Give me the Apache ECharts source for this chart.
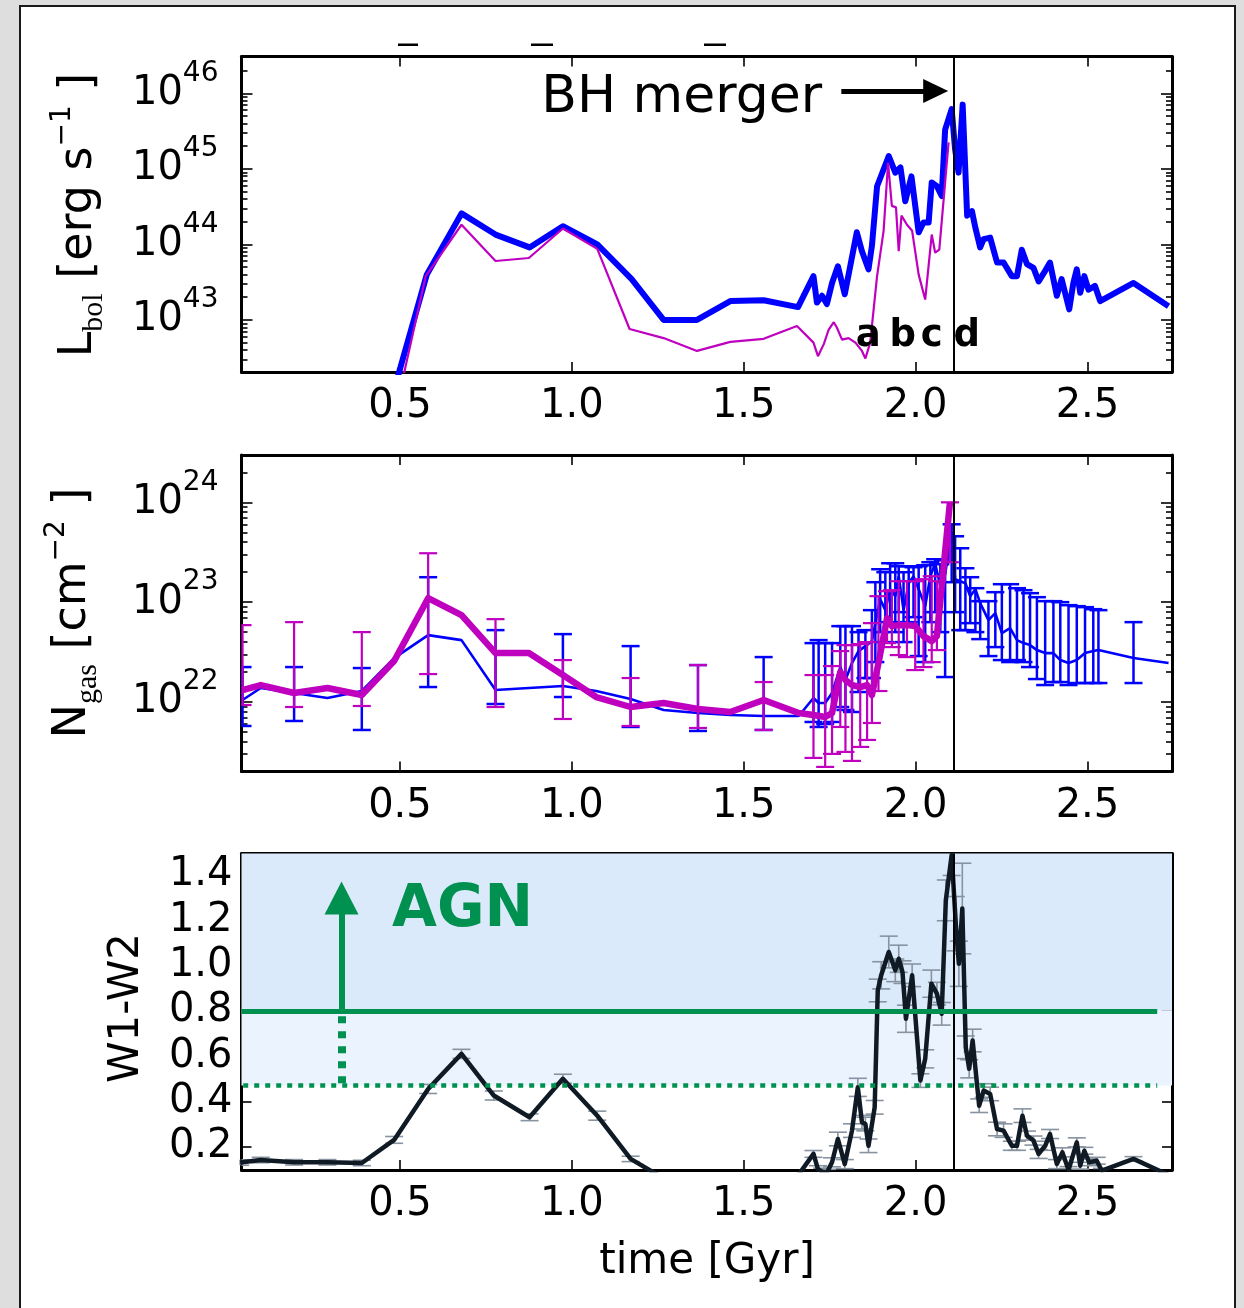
<!DOCTYPE html>
<html><head><meta charset="utf-8">
<script src="https://cdn.jsdelivr.net/npm/echarts@6/dist/echarts.min.js"></script>
<style>
html,body{margin:0;padding:0;width:1244px;height:1308px;background:#dedede;overflow:hidden}
#card{position:absolute;left:19px;top:5px;width:1213px;height:1320px;background:#fff;border:2px solid #1a1a1a}
#chart{position:absolute;left:0;top:0;width:1244px;height:1308px}
</style></head><body><div id="card"></div><div id="chart"></div>
<script>
// ---------------- DATA ----------------
// time axis ticks
const timeTicks = [0.5, 1.0, 1.5, 2.0, 2.5];
const mergerTime = 2.108;

// Panel 1: log10 L_bol [erg/s]
const lbolBlueT = [0.470,0.578,0.679,0.778,0.877,0.974,1.074,1.174,1.267,1.364,1.461,1.558,1.658,1.703,1.713,1.728,1.742,1.757,1.774,1.794,1.829,1.844,1.863,1.873,1.888,1.922,1.941,1.956,1.970,1.988,2.009,2.023,2.038,2.047,2.062,2.076,2.086,2.105,2.115,2.125,2.137,2.145,2.150,2.164,2.174,2.188,2.198,2.217,2.237,2.256,2.280,2.295,2.309,2.324,2.343,2.358,2.377,2.391,2.411,2.425,2.447,2.459,2.469,2.479,2.491,2.503,2.522,2.537,2.634,2.736];
const lbolBlueLog = [41.87,43.60,44.41,44.13,43.96,44.24,44.00,43.54,43.00,43.00,43.25,43.26,43.17,43.58,43.23,43.32,43.21,43.49,43.71,43.34,44.16,43.91,43.67,43.98,44.77,45.17,44.95,45.02,44.57,44.90,44.16,44.29,44.29,44.82,44.77,44.64,45.52,45.79,45.26,44.95,45.85,44.95,44.38,44.44,44.22,43.96,44.07,44.09,43.76,43.76,43.58,43.58,43.93,43.74,43.69,43.51,43.65,43.76,43.32,43.54,43.14,43.49,43.67,43.36,43.58,43.40,43.45,43.25,43.49,43.18];
const lbolMagT = [0.490,0.575,0.679,0.778,0.875,0.974,1.074,1.168,1.267,1.364,1.461,1.558,1.655,1.703,1.716,1.733,1.747,1.762,1.771,1.786,1.805,1.825,1.844,1.854,1.868,1.888,1.907,1.920,1.931,1.943,1.951,1.959,1.975,1.990,2.009,2.028,2.047,2.057,2.069,2.096];
const lbolMagLog = [41.85,43.58,44.26,43.78,43.82,44.21,43.94,42.88,42.76,42.59,42.71,42.75,42.92,42.70,42.52,42.68,42.87,42.97,42.90,42.74,42.76,42.70,42.59,42.49,42.70,43.58,44.18,45.08,44.51,44.49,43.91,44.38,44.26,44.18,43.60,43.27,44.13,43.89,43.93,45.35];
const lbolMajorExp = [43, 44, 45, 46];

// Panel 2: log10 N_gas [cm^-2]
const ngasBlueT = [0.042,0.095,0.192,0.289,0.389,0.483,0.582,0.679,0.778,0.875,0.974,1.071,1.171,1.267,1.367,1.461,1.558,1.660,1.703,1.718,1.737,1.757,1.781,1.796,1.815,1.834,1.854,1.873,1.883,1.897,1.912,1.926,1.941,1.951,1.965,1.980,1.994,2.009,2.028,2.043,2.057,2.072,2.086,2.105,2.115,2.130,2.145,2.159,2.174,2.188,2.212,2.232,2.251,2.275,2.295,2.314,2.333,2.353,2.377,2.401,2.421,2.445,2.469,2.493,2.517,2.532,2.634,2.736];
const ngasBlueLog = [22.02,22.14,22.09,22.04,22.11,22.44,22.67,22.62,22.12,22.14,22.16,22.11,22.03,21.92,21.89,21.87,21.86,21.86,22.04,21.99,21.99,22.09,22.35,22.22,22.39,22.51,22.56,22.61,22.79,23.03,22.92,23.13,23.06,23.26,22.92,23.19,23.26,23.13,22.96,23.26,23.39,23.16,23.28,23.70,23.23,23.21,23.19,23.06,23.13,22.99,22.82,22.89,22.69,22.74,22.62,22.59,22.57,22.52,22.49,22.49,22.42,22.39,22.42,22.49,22.51,22.52,22.44,22.39];
const ngasBlueErrT = [0.042,0.192,0.389,0.582,0.778,0.974,1.171,1.367,1.558,1.703,1.718,1.737,1.757,1.781,1.796,1.815,1.834,1.854,1.873,1.883,1.897,1.912,1.926,1.941,1.951,1.965,1.980,1.994,2.009,2.028,2.043,2.057,2.072,2.086,2.105,2.115,2.130,2.145,2.159,2.174,2.188,2.212,2.232,2.251,2.275,2.295,2.314,2.333,2.353,2.377,2.401,2.421,2.445,2.469,2.493,2.517,2.532,2.634];
const ngasBlueErrLo = [21.76,21.81,21.72,22.15,21.98,22.05,21.75,21.71,21.72,21.80,21.75,21.78,21.80,21.95,21.92,21.90,22.10,22.24,22.24,22.40,22.70,22.60,22.80,22.70,22.90,22.60,22.80,22.85,22.46,22.40,22.80,22.90,22.70,22.25,23.20,22.90,22.72,22.72,22.79,22.70,22.63,22.46,22.55,22.42,22.40,22.42,22.40,22.35,22.23,22.17,22.20,22.20,22.17,22.19,22.19,22.19,22.19,22.19];
const ngasBlueErrHi = [22.35,22.35,22.34,23.25,22.72,22.68,22.56,22.37,22.45,22.59,22.62,22.59,22.59,22.76,22.76,22.76,22.70,22.72,22.92,23.20,23.33,23.30,23.39,23.39,23.36,23.30,23.36,23.35,23.36,23.37,23.40,23.43,23.38,23.42,23.78,23.66,23.54,23.34,23.25,23.14,23.01,23.01,23.10,23.18,23.18,23.14,23.12,23.09,23.05,23.01,23.01,23.00,22.97,22.96,22.95,22.93,22.92,22.80];
const ngasMagT = [0.042,0.095,0.192,0.289,0.389,0.483,0.582,0.679,0.778,0.875,0.974,1.071,1.171,1.267,1.367,1.461,1.558,1.660,1.703,1.737,1.757,1.781,1.796,1.815,1.839,1.859,1.873,1.892,1.917,1.931,1.951,1.975,1.999,2.023,2.047,2.062,2.100];
const ngasMagLog = [22.12,22.17,22.09,22.14,22.07,22.41,23.04,22.87,22.49,22.49,22.27,22.05,21.95,21.99,21.93,21.90,22.02,21.89,21.87,21.85,21.89,22.30,22.22,22.17,22.15,22.17,22.07,22.39,22.84,22.76,22.77,22.77,22.76,22.66,22.61,22.66,24.00];
const ngasMagErrT = [0.042,0.192,0.389,0.582,0.778,0.974,1.171,1.367,1.558,1.703,1.737,1.757,1.781,1.796,1.815,1.839,1.859,1.873,1.892,1.917,1.931,1.951,1.975,1.999,2.023,2.047,2.062,2.100];
const ngasMagErrLo = [21.97,21.95,21.96,22.28,21.95,21.83,21.76,21.74,21.72,21.44,21.35,21.48,21.75,21.50,21.41,21.55,21.62,21.79,22.11,22.59,22.55,22.47,22.45,22.32,22.35,22.40,22.52,23.40];
const ngasMagErrHi = [22.77,22.80,22.70,23.49,22.83,22.42,22.24,22.37,22.20,22.27,22.27,22.36,22.51,22.57,22.57,22.58,22.60,22.79,23.06,23.11,23.12,23.21,23.21,23.21,23.23,23.26,23.21,24.00];
const ngasMajorExp = [22, 23, 24];

// Panel 3: W1-W2 colour
const wT = [0.035,0.095,0.192,0.289,0.389,0.483,0.582,0.679,0.773,0.877,0.974,1.074,1.171,1.267,1.364,1.461,1.558,1.658,1.703,1.716,1.728,1.742,1.757,1.774,1.794,1.815,1.832,1.844,1.854,1.863,1.881,1.890,1.900,1.922,1.941,1.951,1.962,1.972,1.990,2.014,2.028,2.046,2.062,2.076,2.088,2.105,2.117,2.126,2.136,2.146,2.156,2.166,2.185,2.198,2.217,2.237,2.256,2.280,2.295,2.311,2.324,2.343,2.358,2.377,2.391,2.411,2.427,2.445,2.469,2.479,2.491,2.505,2.527,2.542,2.634,2.736];
const wColor = [0.130,0.141,0.131,0.131,0.128,0.230,0.455,0.610,0.426,0.330,0.500,0.337,0.146,0.060,0.050,0.055,0.060,0.073,0.168,0.101,0.090,0.085,0.131,0.234,0.123,0.271,0.462,0.308,0.300,0.204,0.374,0.890,0.957,1.060,0.979,1.030,0.971,0.765,0.957,0.492,0.588,0.920,0.876,0.787,1.288,1.488,1.185,1.008,1.252,0.639,0.544,0.669,0.381,0.448,0.433,0.278,0.271,0.204,0.204,0.337,0.249,0.227,0.168,0.204,0.256,0.123,0.175,0.097,0.219,0.116,0.182,0.131,0.138,0.094,0.146,0.075];
const wErr = [0.012,0.012,0.012,0.012,0.012,0.015,0.02,0.02,0.02,0.015,0.02,0.02,0.012,0.01,0.01,0.01,0.01,0.01,0.015,0.015,0.015,0.015,0.02,0.03,0.02,0.03,0.04,0.03,0.03,0.03,0.03,0.05,0.06,0.07,0.05,0.06,0.05,0.06,0.05,0.03,0.04,0.06,0.05,0.05,0.09,0.09,0.12,0.10,0.20,0.05,0.04,0.05,0.03,0.03,0.03,0.03,0.03,0.02,0.02,0.03,0.02,0.02,0.02,0.02,0.02,0.02,0.02,0.015,0.02,0.015,0.015,0.015,0.015,0.01,0.01,0.01];
const wTicks = [0.2, 0.4, 0.6, 0.8, 1.0, 1.2, 1.4];
const agnCut = 0.8;
const agnCutLow = 0.47;
const agnArrowT = 0.330;
const agnArrowTop = 1.298;
const lineEndT = 2.703;

// ---------------- STYLE / LAYOUT ----------------
const F = 'DejaVu Sans';
const xMin = 0.039, xMax = 2.746;
const lbolRange = [42.311, 46.487];
const ngasRange = [21.304, 24.474];
const wRange = [0.097, 1.495];
const BLUE = '#0000ff', MAG = '#bf00bf', GREEN = '#009150', BLK = '#0f1a24', GRAY = '#8793a0';

const grids = [
  {left: 241.5, top: 56.5, width: 930.5, height: 315.5},
  {left: 241.5, top: 455, width: 930.5, height: 316.5},
  {left: 241.5, top: 853.5, width: 930.5, height: 316.5}
];
const P = v => Math.pow(10, v);
const lineAx = {show: true, onZero: false, lineStyle: {color: '#000', width: 3}};
const tickStyle = {color: '#000', width: 1.6};

function mkX(gi) {
  const base = {type: 'value', gridIndex: gi, min: xMin, max: xMax, splitLine: {show: false}, axisLine: lineAx};
  return [
    Object.assign({}, base, {position: 'bottom',
      axisTick: {show: true, inside: true, length: 10, lineStyle: tickStyle, customValues: timeTicks},
      axisLabel: {show: true, customValues: timeTicks, formatter: v => v.toFixed(1), fontFamily: F, fontSize: 40, color: '#000', margin: 15}}),
    Object.assign({}, base, {position: 'top',
      axisTick: {show: true, inside: true, length: 10, lineStyle: tickStyle, customValues: timeTicks},
      axisLabel: {show: false}})
  ];
}
function minorsFor(r) {
  const out = [];
  for (let n = Math.floor(r[0]); n <= Math.ceil(r[1]); n++) {
    for (let k = 2; k <= 9; k++) {
      const l = Math.log10(k) + n;
      if (l > r[0] && l < r[1]) out.push(k * Math.pow(10, n));
    }
  }
  return out;
}
const supRich = {
  b: {fontSize: 40, fontFamily: F, color: '#000', lineHeight: 68, verticalAlign: 'middle'},
  s: {fontSize: 28, fontFamily: F, color: '#000', lineHeight: 28, verticalAlign: 'top'}
};
function mkYLog(gi, r, majorsExp) {
  const majors = majorsExp.map(P);
  const minors = minorsFor(r);
  const base = {type: 'log', logBase: 10, gridIndex: gi, min: P(r[0]), max: P(r[1]), splitLine: {show: false}};
  return [
    Object.assign({}, base, {position: 'left', axisLine: lineAx,
      axisTick: {show: true, inside: true, length: 11, lineStyle: tickStyle, customValues: majors},
      axisLabel: {show: true, customValues: majors, margin: 23, fontSize: 40, fontFamily: F, color: '#000',
        formatter: v => '{b|10}{s|' + Math.round(Math.log10(v)) + '}', rich: supRich}}),
    Object.assign({}, base, {position: 'left', axisLine: {show: false},
      axisTick: {show: true, inside: true, length: 6, lineStyle: tickStyle, customValues: minors}, axisLabel: {show: false}}),
    Object.assign({}, base, {position: 'right', axisLine: lineAx,
      axisTick: {show: true, inside: true, length: 11, lineStyle: tickStyle, customValues: majors}, axisLabel: {show: false}}),
    Object.assign({}, base, {position: 'right', axisLine: {show: false},
      axisTick: {show: true, inside: true, length: 6, lineStyle: tickStyle, customValues: minors}, axisLabel: {show: false}})
  ];
}
function mkYLin(gi) {
  const base = {type: 'value', gridIndex: gi, min: wRange[0], max: wRange[1], splitLine: {show: false}, axisLine: lineAx};
  return [
    Object.assign({}, base, {position: 'left',
      axisTick: {show: true, inside: true, length: 10, lineStyle: tickStyle, customValues: wTicks},
      axisLabel: {show: true, customValues: wTicks, formatter: v => v.toFixed(1), margin: 9, fontFamily: F, fontSize: 40, color: '#000'}}),
    Object.assign({}, base, {position: 'right',
      axisTick: {show: true, inside: true, length: 10, lineStyle: tickStyle, customValues: wTicks}, axisLabel: {show: false}})
  ];
}

function errSeries(xi, yi, ts, los, his, color, lw, cap, z) {
  const data = ts.map((t, i) => [t, los[i], his[i]]);
  return {
    type: 'custom', xAxisIndex: xi, yAxisIndex: yi, z: z, silent: true,
    encode: {x: 0, y: [1, 2]}, data: data,
    renderItem: function (params, api) {
      const cs = params.coordSys;
      const a = api.coord([api.value(0), api.value(1)]);
      const b = api.coord([api.value(0), api.value(2)]);
      const top = cs.y, bot = cs.y + cs.height;
      const x = a[0];
      const y1 = Math.min(Math.max(b[1], top), bot), y2 = Math.min(Math.max(a[1], top), bot);
      const st = {stroke: color, lineWidth: lw};
      const ch = [{type: 'line', shape: {x1: x, y1: y1, x2: x, y2: y2}, style: st}];
      [a[1], b[1]].forEach(yy => {
        if (yy >= top - 0.5 && yy <= bot + 0.5) {
          ch.push({type: 'line', shape: {x1: Math.max(x - cap, cs.x), y1: yy, x2: x + cap, y2: yy}, style: st});
        }
      });
      return {type: 'group', children: ch};
    }
  };
}

const zip = (ts, vs, f) => ts.map((t, i) => [t, f ? f(vs[i]) : vs[i]]);
const vLine = {xAxis: mergerTime, lineStyle: {color: '#000', width: 2, type: 'solid'}};

const series = [
  // panel 1
  {type: 'line', xAxisIndex: 0, yAxisIndex: 0, data: zip(lbolBlueT, lbolBlueLog, P), symbol: 'none', z: 3,
    lineStyle: {color: BLUE, width: 6, join: 'round'},
    markLine: {silent: true, symbol: 'none', label: {show: false}, animation: false,
      data: [vLine,
        [{coord: [1.784, P(46.03)], symbol: 'none', lineStyle: {color: '#000', width: 5, type: 'solid'}},
         {coord: [2.0585, P(46.03)], symbol: 'triangle', symbolSize: [24, 25]}]
      ]}},
  {type: 'line', xAxisIndex: 0, yAxisIndex: 0, data: zip(lbolMagT, lbolMagLog, P), symbol: 'none', z: 4,
    lineStyle: {color: MAG, width: 2.2}},
  // panel 2
  errSeries(2, 4, ngasBlueErrT, ngasBlueErrLo.map(P), ngasBlueErrHi.map(P), BLUE, 2.5, 9, 2),
  {type: 'line', xAxisIndex: 2, yAxisIndex: 4, data: zip(ngasBlueT, ngasBlueLog, P), symbol: 'none', z: 3,
    lineStyle: {color: BLUE, width: 2.6},
    markLine: {silent: true, symbol: 'none', label: {show: false}, animation: false, data: [vLine]}},
  errSeries(2, 4, ngasMagErrT, ngasMagErrLo.map(P), ngasMagErrHi.map(P), MAG, 2.2, 9, 4),
  {type: 'line', xAxisIndex: 2, yAxisIndex: 4, data: zip(ngasMagT, ngasMagLog, P), symbol: 'none', z: 5,
    lineStyle: {color: MAG, width: 6.5, join: 'round'}},
  // panel 3 shading
  {type: 'line', xAxisIndex: 4, yAxisIndex: 8, data: [[xMin, 0]], symbol: 'none', z: 1, lineStyle: {opacity: 0},
    markArea: {silent: true, animation: false, data: [
      [{yAxis: agnCut, itemStyle: {color: '#dbeafa'}}, {yAxis: wRange[1]}],
      [{yAxis: agnCutLow, itemStyle: {color: '#eaf3fe'}}, {yAxis: agnCut}]
    ]}},
  {type: 'line', xAxisIndex: 4, yAxisIndex: 8, data: [[xMin, 0]], symbol: 'none', z: 2, lineStyle: {opacity: 0},
    markLine: {silent: true, symbol: 'none', label: {show: false}, animation: false, data: [
      vLine,
      [{coord: [xMin, agnCut], lineStyle: {color: GREEN, width: 5, type: 'solid'}}, {coord: [lineEndT, agnCut]}],
      [{coord: [xMin + 0.005, agnCutLow], lineStyle: {color: GREEN, width: 4.5, type: [5, 6], cap: 'butt'}}, {coord: [lineEndT, agnCutLow]}],
      [{coord: [agnArrowT, agnCutLow + 0.01], lineStyle: {color: GREEN, width: 8, type: [7, 8], cap: 'butt'}}, {coord: [agnArrowT, agnCut - 0.01]}],
      [{coord: [agnArrowT, agnCut], lineStyle: {color: GREEN, width: 6, type: 'solid'}}, {coord: [agnArrowT, agnArrowTop], symbol: 'triangle', symbolSize: [34, 33], itemStyle: {color: GREEN}}]
    ]}},
  errSeries(4, 8, wT, wColor.map((v, i) => v - wErr[i]), wColor.map((v, i) => v + wErr[i]), GRAY, 1.6, 9, 3),
  {type: 'line', xAxisIndex: 4, yAxisIndex: 8, data: zip(wT, wColor), symbol: 'none', z: 4,
    lineStyle: {color: BLK, width: 4.5, join: 'round'}}
];

const chart = echarts.init(document.getElementById('chart'), null, {renderer: 'canvas'});
chart.setOption({
  animation: false,
  backgroundColor: 'transparent',
  grid: grids,
  xAxis: [].concat(mkX(0), mkX(1), mkX(2)),
  yAxis: [].concat(mkYLog(0, lbolRange, lbolMajorExp), mkYLog(1, ngasRange, ngasMajorExp), mkYLin(2)),
  series: series
});

// ---------------- annotations ----------------
const c0 = (t, v) => chart.convertToPixel({seriesIndex: 0}, [t, v]);
const c2 = (t, v) => chart.convertToPixel({seriesIndex: 9}, [t, v]);
const txt = (pos, text, size, weight, color, align) => ({
  type: 'text', x: pos[0], y: pos[1], silent: true, z: 50,
  style: {text: text, fontSize: size, fontFamily: F, fontWeight: weight, fill: color,
    align: align, verticalAlign: 'middle', textAlign: align, textVerticalAlign: 'middle'}
});
const mainR = (fs) => ({fontSize: fs, fontFamily: F, fill: '#000', color: '#000', lineHeight: 60, verticalAlign: 'middle'});
const subR = {fontSize: 30, fontFamily: 'Liberation Serif', fill: '#000', color: '#000', lineHeight: 30, verticalAlign: 'bottom'};
const supR = {fontSize: 28, fontFamily: F, fill: '#000', color: '#000', lineHeight: 28, verticalAlign: 'top'};
const rotTitle = (x, y, text) => ({
  type: 'text', x: x, y: y, rotation: Math.PI / 2, silent: true, z: 50,
  style: {text: text, rich: {m: mainR(46), sub: subR, sup: supR}, fill: '#000',
    align: 'center', verticalAlign: 'middle', textAlign: 'center', textVerticalAlign: 'middle'}
});
const abcd = [['a', 1.862], ['b', 1.963], ['c', 2.047], ['d', 2.149]];
const graphics = [
  txt(c0(1.728, P(45.93)), 'BH merger', 52, 'normal', '#000', 'right'),
  ...abcd.map(p => txt(c0(p[1], P(42.78)), p[0], 37, 'bold', '#000', 'center')),
  txt(c2(0.477, 1.24), 'AGN', 58, 'bold', GREEN, 'left'),
  rotTitle(79, 215, '{m|L}{sub|bol}{m| [erg s}{sup|−1}{m| ]}'),
  rotTitle(73, 613, '{m|N}{sub|gas}{m| [cm}{sup|−2}{m| ]}'),
  {type: 'text', x: 127, y: 1008, rotation: Math.PI / 2, silent: true, z: 50,
    style: {text: 'W1-W2', fontSize: 42, fontFamily: F, fill: '#000', align: 'center', verticalAlign: 'middle', textAlign: 'center', textVerticalAlign: 'middle'}},
  txt([707, 1262], 'time [Gyr]', 42, 'normal', '#000', 'center'),
  {type: 'rect', shape: {x: 398, y: 43.5, width: 20, height: 2.5}, style: {fill: '#000'}, silent: true},
  {type: 'rect', shape: {x: 531, y: 43.5, width: 22, height: 2.5}, style: {fill: '#000'}, silent: true},
  {type: 'rect', shape: {x: 704, y: 43.5, width: 22, height: 2.5}, style: {fill: '#000'}, silent: true}
];
chart.setOption({graphic: graphics});
</script></body></html>
